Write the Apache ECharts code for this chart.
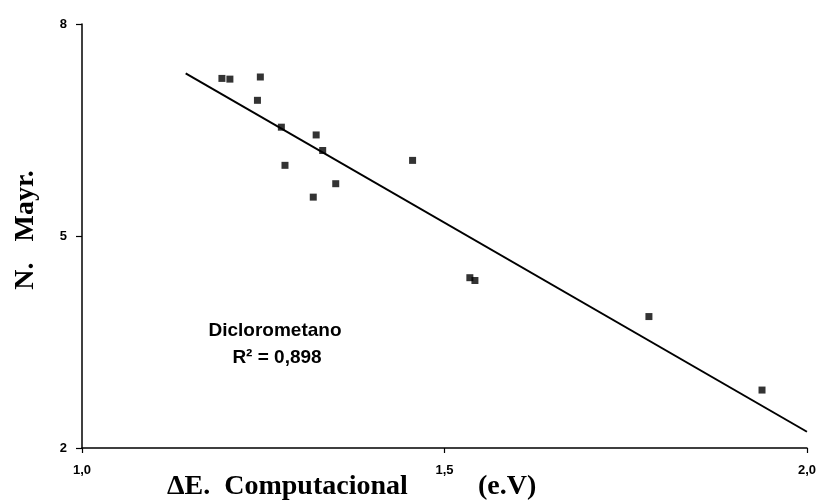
<!DOCTYPE html>
<html>
<head>
<meta charset="utf-8">
<script src="https://cdn.jsdelivr.net/npm/echarts@6/dist/echarts.min.js"></script>
<style>
  html, body { margin: 0; padding: 0; background: #fff; }
  #chart { width: 819px; height: 502px; }
</style>
</head>
<body>
<div id="chart"></div>
<script>
// measured points: deltaE (eV) vs Mayr N
const deltaE = [1.193, 1.204, 1.246, 1.242, 1.275, 1.323, 1.280, 1.332, 1.350, 1.319, 1.456, 1.535, 1.542, 1.782, 1.938];
const mayrN  = [7.23, 7.22, 7.25, 6.92, 6.54, 6.43, 6.00, 6.21, 5.74, 5.55, 6.07, 4.41, 4.37, 3.86, 2.82];

// trend line end points
const fitX = [1.143, 2.0];
const fitY = [7.30, 2.23];

const xTicks = [1.0, 1.5, 2.0];
const yTicks = [2, 5, 8];

const points = deltaE.map((x, i) => [x, mayrN[i]]);
const fitLine = fitX.map((x, i) => [x, fitY[i]]);

const chart = echarts.init(document.getElementById('chart'));

const tickFont = { color: '#000', fontFamily: 'Liberation Sans, Arial', fontWeight: 'bold', fontSize: 13 };
const titleFont = 'bold 28px "Liberation Serif", "Times New Roman", serif';
const noteFont = 'bold 19px "Liberation Sans", Arial, sans-serif';

chart.setOption({
  animation: false,
  backgroundColor: '#fff',
  grid: { left: 82, right: 12, top: 24, bottom: 54 },
  xAxis: {
    type: 'value', min: 1, max: 2,
    axisLine: { lineStyle: { color: '#000', width: 1.5 } },
    axisTick: { customValues: xTicks, length: 5, lineStyle: { color: '#000', width: 1.2 } },
    axisLabel: Object.assign({
      customValues: xTicks, margin: 16,
      formatter: v => v.toFixed(1).replace('.', ',')
    }, tickFont),
    splitLine: { show: false }
  },
  yAxis: {
    type: 'value', min: 2, max: 8,
    axisLine: { show: true, lineStyle: { color: '#000', width: 1.5 } },
    axisTick: { show: true, customValues: yTicks, length: 6, lineStyle: { color: '#000', width: 1.2 } },
    axisLabel: Object.assign({ customValues: yTicks, margin: 15 }, tickFont),
    splitLine: { show: false }
  },
  series: [
    {
      type: 'line', data: fitLine, symbol: 'none',
      lineStyle: { color: '#000', width: 2 }, z: 1
    },
    {
      type: 'scatter', data: points, symbol: 'rect', symbolSize: 7,
      itemStyle: { color: '#000' }, z: 2
    }
  ],
  graphic: [
    {
      type: 'text', x: 26, y: 230, rotation: Math.PI / 2,
      style: { text: 'N.   Mayr.', font: titleFont, fill: '#000', align: 'center', verticalAlign: 'middle' }
    },
    {
      type: 'text', x: 167, y: 487,
      style: { text: '\u0394E.  Computacional', font: titleFont, fill: '#000', align: 'left', verticalAlign: 'middle' }
    },
    {
      type: 'text', x: 478, y: 487,
      style: { text: '(e.V)', font: titleFont, fill: '#000', align: 'left', verticalAlign: 'middle' }
    },
    {
      type: 'text', x: 275, y: 331,
      style: { text: 'Diclorometano', font: noteFont, fill: '#000', align: 'center', verticalAlign: 'middle' }
    },
    {
      type: 'text', x: 277, y: 358,
      style: { text: 'R\u00b2 = 0,898', font: noteFont, fill: '#000', align: 'center', verticalAlign: 'middle' }
    }
  ]
});
</script>
</body>
</html>
